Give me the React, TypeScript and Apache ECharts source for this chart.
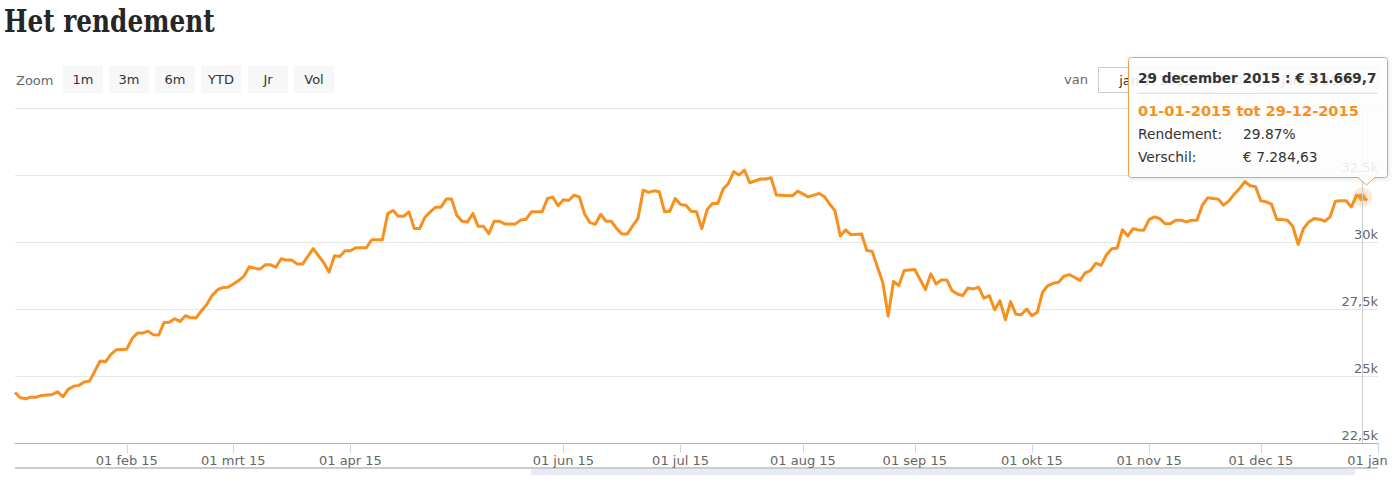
import React, { useEffect, useRef } from 'react';
import * as echarts from 'echarts';

// ---- data ----
const pointDates: string[] = [
  '01-02','01-05','01-06','01-07','01-08','01-09','01-13','01-14','01-15','01-16','01-19','01-20','01-21','01-22','01-23','01-26','01-27','01-28','01-29',
  '02-02','02-03','02-04','02-05','02-06','02-09','02-10','02-11','02-12','02-13','02-16','02-17','02-18','02-19','02-20','02-23','02-24','02-25','02-26','02-27',
  '03-02','03-03','03-04','03-05','03-06','03-09','03-10','03-11','03-12','03-13','03-16','03-17','03-18','03-19','03-23','03-25','03-26','03-27','03-30','03-31',
  '04-01','04-02','04-08','04-09','04-13','04-14','04-15','04-16','04-17','04-20','04-21','04-22','04-23','04-24','04-27','04-28','04-29','04-30',
  '05-04','05-05','05-06','05-07','05-08','05-11','05-12','05-13','05-14','05-15','05-19','05-20','05-21','05-22','05-26','05-27','05-28','05-29',
  '06-01','06-02','06-03','06-04','06-05','06-08','06-09','06-10','06-11','06-12','06-15','06-16','06-17','06-18','06-19','06-22','06-23','06-24','06-25','06-26','06-29','06-30',
  '07-01','07-02','07-03','07-06','07-07','07-08','07-09','07-10','07-13','07-14','07-15','07-16','07-17','07-20','07-22','07-23','07-24','07-27','07-30','07-31',
  '08-04','08-06','08-07','08-10','08-11','08-12','08-13','08-14','08-18','08-19','08-20','08-21','08-24','08-25','08-26','08-27','08-28',
  '09-01','09-02','09-03','09-04','09-07','09-08','09-09','09-10','09-11','09-14','09-15','09-16','09-17','09-18','09-21','09-22','09-23','09-24','09-25','09-28','09-29','09-30',
  '10-01','10-02','10-05','10-06','10-07','10-08','10-09','10-12','10-13','10-14','10-15','10-16','10-19','10-20','10-21','10-22','10-23','10-26','10-27','10-28','10-29','10-30',
  '11-02','11-03','11-04','11-05','11-06','11-09','11-10','11-11','11-12','11-13','11-16','11-17','11-18','11-19','11-20','11-23','11-24','11-25','11-26','11-27','11-30',
  '12-01','12-02','12-03','12-04','12-07','12-08','12-09','12-10','12-11','12-14','12-15','12-16','12-17','12-18','12-21','12-22','12-23','12-24','12-28','12-29','12-30',
];

const pointValues: number[] = [
  24385.07,24190,24150,24210,24210,24275,24310,24410,24225,24500,24620,24650,24775,24810,25185,25560,25530,25810,25975,
  26000,26400,26600,26600,26675,26535,26530,27000,27010,27135,27035,27250,27170,27170,27435,27660,28000,28210,28300,28310,
  28435,28560,28725,29075,29025,28985,29150,29150,29060,29375,29325,29325,29175,29175,29750,29225,28875,29485,29460,29675,
  29675,29785,29785,30085,30085,31060,31175,30960,30960,31125,30500,30500,30925,31125,31300,31300,31600,31600,
  30985,30770,30750,31060,30585,30585,30310,30775,30775,30675,30675,30825,30850,31125,31125,31625,31675,31350,
  31575,31550,31750,31685,31035,30725,30660,31035,30775,30775,30500,30300,30300,30600,30875,31935,31850,31910,31875,31125,31150,31625,
  31400,31375,31150,31125,30500,31210,31435,31435,31975,32185,32625,32500,32685,32210,32350,32350,32400,31750,31725,31900,
  31685,31810,31700,31420,31170,30225,30450,30275,30300,29685,29650,29060,28480,27235,28525,28375,28935,
  28975,28600,28225,28810,28435,28585,28585,28185,28060,28000,28285,28250,28310,27900,28000,27475,27810,27100,27775,27300,27285,27500,
  27250,27375,28125,28375,28460,28500,28725,28785,28685,28560,28850,28935,29210,29125,29525,29750,29775,30460,30225,30500,30450,30435,
  30835,30935,30875,30685,30685,30810,30810,30750,30810,30810,31375,31650,31625,31600,31375,31535,31785,32000,32250,32100,32060,
  31535,31500,31410,30835,30835,30810,30585,29910,30500,30750,30875,30850,30775,30935,31525,31535,31535,31310,31750,31669.7,31560,
];

const year = 2015;
const marketHolidays = ['2015-01-01', '2015-04-03', '2015-04-06', '2015-05-01', '2015-12-25'];
const axisEndDate = '2016-01-01';
const axisEndLabel = '01 jan';
const monthNames = ['jan', 'feb', 'mrt', 'apr', 'mei', 'jun', 'jul', 'aug', 'sep', 'okt', 'nov', 'dec'];
const unlabelledMonths = ['2015-05'];
const yMin = 22500;
const yMax = 35000;
const yStep = 2500;
const zoomButtons = ['1m', '3m', '6m', 'YTD', 'Jr', 'Vol'];
const rangeFrom = 'jan 1, 2015';
const rangeTo = 'jan 1, 2016';
const periodStartLabel = '01-01-2015';
const hoverDate = '2015-12-29';

// ---- helpers ----
function tradingCategories(): string[] {
  const out: string[] = [];
  const d = new Date(Date.UTC(year, 0, 1));
  const end = Date.UTC(year, 11, 31);
  while (d.getTime() <= end) {
    const wd = d.getUTCDay();
    const s = d.toISOString().slice(0, 10);
    if (wd !== 0 && wd !== 6 && !marketHolidays.includes(s)) out.push(s);
    d.setUTCDate(d.getUTCDate() + 1);
  }
  out.push(axisEndDate);
  return out;
}

function nlNumber(n: number, decimals: number): string {
  const fixed = n.toFixed(decimals);
  const [int, dec] = fixed.split('.');
  const withDots = int.replace(/\B(?=(\d{3})+(?!\d))/g, '.');
  return dec ? `${withDots},${dec}` : withDots;
}

const fullMonthNames = ['januari', 'februari', 'maart', 'april', 'mei', 'juni', 'juli', 'augustus', 'september', 'oktober', 'november', 'december'];

export default function App() {
  const ref = useRef<HTMLDivElement>(null);

  useEffect(() => {
    if (!ref.current) return;
    const chart = echarts.init(ref.current, undefined, { renderer: 'svg' });

    const categories = tradingCategories();
    const tickSet = new Set<string>();
    categories.forEach((c, i) => {
      if (i === 0) return;
      if (c.slice(0, 7) !== categories[i - 1].slice(0, 7) && !unlabelledMonths.includes(c.slice(0, 7))) tickSet.add(c);
    });
    const seriesData = pointDates.map((d, i) => [`${year}-${d}`, pointValues[i]]);
    const hoverIdx = pointDates.findIndex((d) => `${year}-${d}` === hoverDate);
    const hoverValue = pointValues[hoverIdx];
    const startValue = pointValues[0];
    const diff = hoverValue - startValue;
    const pct = (diff / startValue) * 100;
    const hd = new Date(hoverDate + 'T00:00:00Z');
    const headerText = `${hd.getUTCDate()} ${fullMonthNames[hd.getUTCMonth()]} ${hd.getUTCFullYear()} : € ${nlNumber(hoverValue, 1)}`;
    const hoverShort = `${String(hd.getUTCDate()).padStart(2, '0')}-${String(hd.getUTCMonth() + 1).padStart(2, '0')}-${hd.getUTCFullYear()}`;

    const fmtDate = (v: string) => {
      if (v === axisEndDate) return `{e|${axisEndLabel}}`;
      const m = parseInt(v.slice(5, 7), 10) - 1;
      return `01 ${monthNames[m]} ${v.slice(2, 4)}`;
    };
    const fmtY = (v: number) => {
      if (v >= yMax) return '';
      const k = v / 1000;
      return `${String(k).replace('.', ',')}k`;
    };

    const orange = '#F7901E';
    const tipBorder = '#F5A04A';
    const font = 'DejaVu Sans';
    const TZ = 100;

    const graphic: any[] = [
      {
        type: 'text', x: 4, y: 21, scaleX: 0.775,
        style: { text: 'Het rendement', fontFamily: 'DejaVu Serif', fontWeight: 'bold', fontSize: 32, fill: '#262626', textVerticalAlign: 'middle' },
      },
      {
        type: 'text', x: 16, y: 80,
        style: { text: 'Zoom', fontFamily: font, fontSize: 13, fill: '#666', textVerticalAlign: 'middle' },
      },
      ...zoomButtons.map((b, i) => ({
        type: 'group', x: 63 + i * 46 + (i >= 4 ? 1 : 0), y: 66,
        children: [
          { type: 'rect', shape: { x: 0, y: 0, width: 40, height: 27 }, style: { fill: '#f7f7f7' } },
          { type: 'text', x: 20, y: 13.5, style: { text: b, fontFamily: font, fontSize: 13, fill: '#333', textAlign: 'center', textVerticalAlign: 'middle' } },
        ],
      })),
      {
        type: 'text', x: 1064, y: 79,
        style: { text: 'van', fontFamily: font, fontSize: 13, fill: '#666', textVerticalAlign: 'middle' },
      },
      { type: 'rect', shape: { x: 1098.5, y: 67.5, width: 117, height: 25 }, style: { fill: '#fff', stroke: '#cccccc', lineWidth: 1 } },
      { type: 'text', x: 1156, y: 80, style: { text: rangeFrom, fontFamily: font, fontSize: 13, fill: '#333', textAlign: 'center', textVerticalAlign: 'middle' } },
      { type: 'text', x: 1234, y: 79, style: { text: 'tot', fontFamily: font, fontSize: 13, fill: '#666', textVerticalAlign: 'middle' } },
      { type: 'rect', shape: { x: 1260.5, y: 67.5, width: 117, height: 25 }, style: { fill: '#fff', stroke: '#cccccc', lineWidth: 1 } },
      { type: 'text', x: 1318, y: 80, style: { text: rangeTo, fontFamily: font, fontSize: 13, fill: '#333', textAlign: 'center', textVerticalAlign: 'middle' } },
      // navigator strip below the axis
      { type: 'rect', shape: { x: 531, y: 469, width: 824, height: 6 }, style: { fill: '#e6ebf5' } },
      { type: 'line', shape: { x1: 15, y1: 468, x2: 1378, y2: 468 }, style: { stroke: '#cccccc', lineWidth: 2 } },
      // tooltip
      {
        type: 'rect', z: TZ, shape: { x: 1128.5, y: 57.5, width: 259, height: 120, r: 3 },
        style: { fill: 'rgba(255,255,255,0.86)', stroke: tipBorder, lineWidth: 1, shadowBlur: 4, shadowColor: 'rgba(0,0,0,0.12)', shadowOffsetX: 1, shadowOffsetY: 1 },
      },
      { type: 'polygon', z: TZ + 1, shape: { points: [[1358, 177], [1366.5, 185], [1375, 177]] }, style: { fill: 'rgba(255,255,255,0.95)' } },
      { type: 'polyline', z: TZ + 2, shape: { points: [[1358, 177.5], [1366.5, 185], [1375, 177.5]] }, style: { stroke: tipBorder, lineWidth: 1, fill: null } },
      { type: 'text', z: TZ + 2, x: 1138, y: 78, style: { text: headerText, fontFamily: font, fontWeight: 'bold', fontSize: 13.6, fill: '#333', textVerticalAlign: 'middle' } },
      { type: 'line', z: TZ + 2, shape: { x1: 1138, y1: 93.5, x2: 1378, y2: 93.5 }, style: { stroke: '#e0e0e0', lineWidth: 1 } },
      { type: 'text', z: TZ + 2, x: 1138, y: 110.5, style: { text: `${periodStartLabel} tot ${hoverShort}`, fontFamily: font, fontWeight: 'bold', fontSize: 14.6, fill: orange, textVerticalAlign: 'middle' } },
      { type: 'text', z: TZ + 2, x: 1138, y: 133.5, style: { text: 'Rendement:', fontFamily: font, fontSize: 13.8, fill: '#333', textVerticalAlign: 'middle' } },
      { type: 'text', z: TZ + 2, x: 1243, y: 133.5, style: { text: `${pct.toFixed(2)}%`, fontFamily: font, fontSize: 13.8, fill: '#333', textVerticalAlign: 'middle' } },
      { type: 'text', z: TZ + 2, x: 1138, y: 157, style: { text: 'Verschil:', fontFamily: font, fontSize: 13.8, fill: '#333', textVerticalAlign: 'middle' } },
      { type: 'text', z: TZ + 2, x: 1243, y: 157, style: { text: `€ ${nlNumber(diff, 2)}`, fontFamily: font, fontSize: 13.8, fill: '#333', textVerticalAlign: 'middle' } },
    ];

    const option: any = {
      animation: false,
      textStyle: { fontFamily: font },
      grid: { left: 15, right: 18, top: 108, bottom: 47, containLabel: false, outerBoundsMode: 'none' },
      xAxis: {
        type: 'category',
        data: categories,
        boundaryGap: false,
        axisLine: { lineStyle: { color: '#F4A04B', width: 1 } },
        axisTick: { show: true, interval: (_i: number, v: string) => tickSet.has(v), length: 10, lineStyle: { color: '#ccd6eb' } },
        axisLabel: {
          interval: (_i: number, v: string) => tickSet.has(v),
          formatter: fmtDate,
          color: '#666',
          fontSize: 13,
          margin: 11,
          hideOverlap: false,
          rich: { e: { color: '#666', fontSize: 13, fontFamily: font, padding: [0, 21, 0, 0] } },
        },
        splitLine: { show: false },
      },
      yAxis: {
        type: 'value',
        position: 'right',
        min: yMin,
        max: yMax,
        interval: yStep,
        axisLine: { show: false },
        axisTick: { show: false },
        splitLine: { lineStyle: { color: '#e6e6e6', width: 1 } },
        axisLabel: { inside: true, margin: 0, verticalAlign: 'bottom', padding: [0, 0, 1, 0], color: '#666', fontSize: 13, formatter: fmtY },
      },
      series: [
        {
          type: 'line',
          data: seriesData,
          showSymbol: false,
          symbol: 'none',
          lineStyle: { color: orange, width: 3, join: 'round' },
          itemStyle: { color: orange },
          z: 2,
          markLine: {
            silent: true,
            symbol: 'none',
            label: { show: false },
            lineStyle: { color: '#cccccc', width: 1, type: 'solid' },
            data: [{ xAxis: hoverDate }],
          },
        },
        {
          type: 'scatter',
          data: [[hoverDate, hoverValue]],
          symbolSize: 19,
          itemStyle: { color: 'rgba(247,144,30,0.25)' },
          silent: true,
          z: 3,
        },
        {
          type: 'scatter',
          data: [[hoverDate, hoverValue]],
          symbolSize: 8,
          itemStyle: { color: orange },
          silent: true,
          z: 4,
        },
      ],
      graphic,
    };

    chart.setOption(option);
    return () => chart.dispose();
  }, []);

  return (
    <div
      ref={ref}
      style={{ position: 'fixed', left: 0, top: 0, width: 1396, height: 490, background: '#fff' }}
    />
  );
}
